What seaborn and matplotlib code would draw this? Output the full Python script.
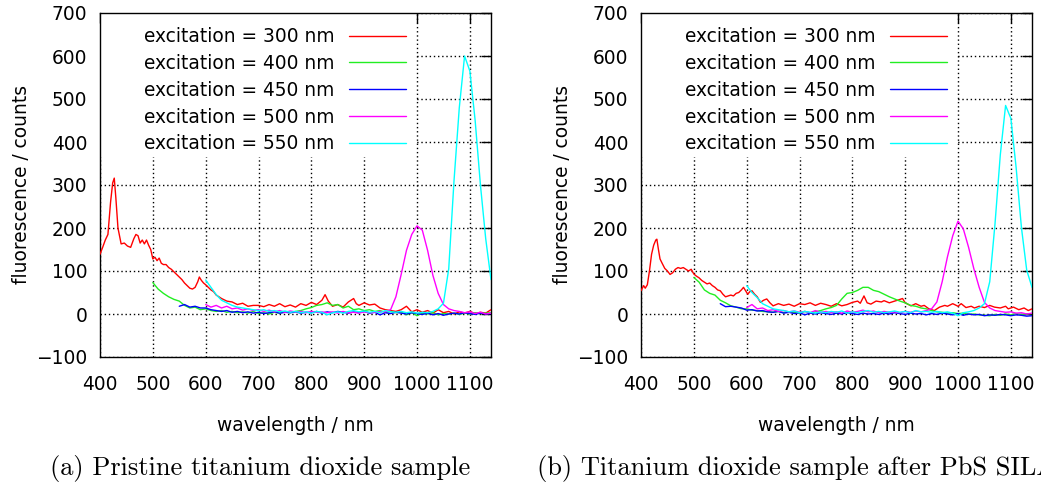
import numpy as np
import pandas as pd
import matplotlib
matplotlib.use("Agg")
import matplotlib.pyplot as plt
from matplotlib.patches import Rectangle
import seaborn as sns

# ---- data (counts vs wavelength in nm) ----
excitations = ["300", "400", "450", "500", "550"]
colors = ["#ff0000", "#22ee22", "#0000ff", "#ff00ff", "#00ffff"]

# panel (a): pristine TiO2
a_wl_300 = [400, 405, 410, 415, 420, 424, 427, 430, 434, 440,
            446, 452, 458, 464, 468, 472, 476, 480, 484, 488,
            492, 496, 500, 504, 508, 512, 516, 520, 525, 530,
            535, 540, 545, 550, 555, 560, 565, 570, 575, 580,
            585, 588, 592, 596, 600, 605, 610, 615, 620, 630,
            640, 650, 660, 670, 680, 690, 700, 710, 720, 730,
            740, 750, 760, 770, 780, 790, 800, 810, 820, 826,
            832, 840, 850, 860, 870, 880, 885, 890, 900, 910,
            920, 930, 940, 950, 960, 970, 980, 990, 1000, 1010,
            1020, 1030, 1040, 1050, 1060, 1070, 1080, 1090, 1100, 1110,
            1120, 1130, 1140]
a_300 = [139, 155, 172, 185, 260, 305, 316, 270, 200, 163,
         165, 158, 155, 175, 185, 182, 165, 172, 163, 172,
         160, 150, 128, 132, 124, 130, 118, 115, 115, 108,
         104, 98, 92, 86, 80, 72, 66, 60, 58, 62,
         75, 86, 78, 72, 68, 62, 56, 52, 44, 36,
         30, 28, 22, 25, 18, 20, 20, 17, 22, 18,
         24, 17, 21, 16, 24, 20, 27, 22, 32, 45,
         30, 18, 22, 16, 28, 36, 24, 20, 26, 21,
         23, 14, 10, 8, 6, 10, 18, 5, 10, 4,
         8, 2, 10, 3, 6, 0, 5, 2, 6, 1,
         4, 2, 10]

a_wl_400 = list(range(500, 1141, 10))
a_400 = [73, 58, 48, 40, 34, 30, 20, 14, 16, 10,
         12, 8, 6, 8, 4, 6, 3, 5, 2, 6,
         1, 3, 0, 4, 2, 5, 3, 6, 8, 12,
         15, 20, 22, 26, 20, 22, 14, 18, 10, 12,
         8, 10, 6, 8, 4, 6, 3, 5, -2, 3,
         -4, 2, 0, 3, -2, 1, 0, 2, -1, 2,
         0, 3, 1, 2, 3]

a_wl_450 = list(range(550, 1141, 10))
a_450 = [18, 22, 16, 18, 14, 14, 10, 8, 6, 8,
         4, 6, 3, 5, 2, 4, 1, 3, 5, 2,
         4, 3, 5, 2, 4, 3, 6, 2, 5, 3,
         6, 4, 2, 5, 3, 6, 2, 4, -2, 3,
         1, 4, 2, 0, 3, 1, -1, 2, -2, 1,
         -3, 0, 2, 0, 3, 1, -1, 2, 0, 1]

a_wl_500 = list(range(600, 1141, 10))
a_500 = [22, 16, 20, 14, 18, 12, 14, 9, 12, 8,
         10, 6, 9, 5, 8, 4, 7, 5, 6, 3,
         6, 4, 5, 3, 5, 2, 6, 3, 4, 2,
         5, 3, 4, 6, 5, 10, 40, 92, 148, 185,
         205, 195, 148, 90, 48, 22, 12, 8, 6, 3,
         5, 1, 4, 0, 2]

a_wl_550 = list(range(600, 1141, 10))
a_550 = [79, 62, 45, 32, 26, 20, 16, 14, 12, 10,
         8, 10, 6, 8, 5, 7, 4, 6, 3, 5,
         2, 6, 4, -2, 3, 5, 2, 6, 8, 5,
         7, 4, 6, 3, 8, 5, 4, 6, 3, 5,
         2, 4, 3, 6, 12, 25, 105, 310, 480, 600,
         565, 450, 300, 175, 80]

# panel (b): after PbS SILAR
b_wl_300 = [400, 405, 408, 412, 416, 420, 424, 428, 430, 433,
            436, 440, 445, 450, 455, 460, 465, 470, 475, 480,
            485, 490, 495, 500, 505, 510, 515, 520, 525, 530,
            535, 540, 545, 550, 555, 560, 565, 570, 575, 580,
            585, 590, 594, 598, 602, 606, 610, 615, 620, 626,
            632, 638, 644, 650, 660, 670, 680, 690, 700, 710,
            720, 730, 740, 750, 760, 770, 780, 790, 800, 810,
            815, 822, 828, 835, 845, 855, 860, 870, 880, 888,
            895, 900, 911, 920, 930, 936, 945, 955, 965, 975,
            980, 990, 1000, 1006, 1015, 1025, 1031, 1040, 1050, 1060,
            1069, 1080, 1090, 1095, 1105, 1115, 1125, 1133, 1140]
b_300 = [54, 66, 60, 68, 100, 139, 160, 172, 174, 150,
         128, 118, 106, 100, 92, 96, 104, 108, 106, 108,
         104, 100, 104, 93, 88, 84, 78, 74, 70, 72,
         66, 62, 56, 54, 46, 40, 42, 44, 42, 48,
         50, 56, 62, 54, 46, 52, 54, 46, 40, 27,
         32, 35, 26, 19, 24, 20, 23, 18, 24, 22,
         26, 20, 25, 22, 18, 24, 19, 22, 27, 30,
         25, 42, 26, 23, 30, 28, 31, 26, 30, 33,
         36, 26, 19, 24, 18, 20, 12, 8, 16, 20,
         18, 24, 18, 24, 15, 18, 14, 18, 15, 20,
         16, 14, 18, 12, 16, 10, 14, 8, 12]

b_wl_400 = list(range(500, 1141, 10))
b_400 = [85, 74, 56, 48, 44, 32, 26, 19, 16, 12,
         12, 9, 8, 6, 5, 4, 6, 3, 5, 4,
         2, 6, 3, 5, 8, 12, 15, 20, 35, 48,
         50, 55, 62, 62, 55, 52, 46, 40, 35, 30,
         26, 20, 18, 14, 12, 8, 5, 4, 2, 3,
         1, 2, -1, 0, -2, -3, -4, -1, -3, 0,
         -2, 1, -1, 0, 1]

b_wl_450 = list(range(550, 1141, 10))
b_450 = [24, 17, 18, 16, 14, 9, 10, 7, 8, 5,
         4, 6, 2, 4, 1, 3, -2, 2, 0, 3,
         1, -1, 2, 0, 3, 1, -1, 2, 0, 1,
         -1, 2, 0, 3, 1, -1, 2, 0, 1, -2,
         1, -1, 2, 0, -2, 1, -3, 0, -2, -1,
         -4, -2, -3, -1, -2, -4, -2, -3, -5, -4]

b_wl_500 = list(range(600, 1141, 10))
b_500 = [15, 22, 12, 14, 8, 10, 6, 8, 5, 7,
         4, 6, 3, 8, 4, 6, 3, 5, 2, 7,
         4, 6, 9, 5, 7, 3, 6, 4, 5, 3,
         6, 4, 7, 5, 8, 12, 28, 75, 133, 182,
         216, 198, 155, 105, 62, 27, 14, 8, 6, 4,
         5, 2, 3, 0, 2]

b_wl_550 = list(range(600, 1141, 10))
b_550 = [66, 50, 38, 24, 18, 12, 10, 8, 5, 7,
         3, 6, 4, 2, 5, 3, 6, 4, 7, 2,
         5, 3, 6, 8, 4, 6, 3, 5, 7, 4,
         6, 3, 8, 5, 6, 4, 6, 3, 5, 2,
         -4, 3, 5, 8, 14, 24, 75, 210, 370, 485,
         455, 340, 201, 102, 62]

panels = {
    "a": [(a_wl_300, a_300), (a_wl_400, a_400), (a_wl_450, a_450),
          (a_wl_500, a_500), (a_wl_550, a_550)],
    "b": [(b_wl_300, b_300), (b_wl_400, b_400), (b_wl_450, b_450),
          (b_wl_500, b_500), (b_wl_550, b_550)],
}
captions = {"a": "(a) Pristine titanium dioxide sample",
            "b": "(b) Titanium dioxide sample after PbS SILAR"}

def to_long(series):
    frames = []
    for exc, (wl, val) in zip(excitations, series):
        frames.append(pd.DataFrame({"wavelength": wl, "counts": val,
                                    "excitation": f"excitation = {exc} nm"}))
    return pd.concat(frames, ignore_index=True)

sns.set_style("white")
plt.rcParams["font.family"] = ["DejaVu Sans"]
plt.rcParams["font.size"] = 13.4
plt.rcParams["text.color"] = "black"
plt.rcParams["axes.labelcolor"] = "black"

fig = plt.figure(figsize=(10.41, 4.88), dpi=100)
W, H = 1041, 488
ax_left = {"a": 100, "b": 641}
palette = dict(zip([f"excitation = {e} nm" for e in excitations], colors))

for key in ["a", "b"]:
    x0 = ax_left[key]
    ax = fig.add_axes([x0 / W, (H - 357) / H, 391 / W, 344 / H])
    df = to_long(panels[key])
    sns.lineplot(data=df, x="wavelength", y="counts", hue="excitation",
                 palette=palette, estimator=None, sort=False, lw=1,
                 ax=ax, zorder=3)
    ax.set_xlim(400, 1140)
    ax.set_ylim(-100, 700)
    ax.set_xticks(range(400, 1101, 100))
    ax.set_yticks(range(-100, 701, 100))
    ax.grid(True, color="black", linestyle=(0, (1, 2)), lw=1)
    ax.set_axisbelow(True)
    for s in ax.spines.values():
        s.set_visible(True)
        s.set_color("black")
        s.set_linewidth(1)
    ax.tick_params(direction="in", length=7, width=1, top=True, right=True,
                   labelsize=13.4, colors="black")
    ax.tick_params(axis="x", pad=13)
    ax.tick_params(axis="y", pad=9)
    ax.set_xlabel("wavelength / nm", fontsize=13.4, labelpad=16)
    ax.set_ylabel("fluorescence / counts", fontsize=13.4, labelpad=4)

    # white key box like gnuplot, hiding grid behind the legend
    ax.add_patch(Rectangle((0, 0.581), 0.808, 0.419, transform=ax.transAxes,
                           facecolor="white", edgecolor="none", zorder=2))
    handles, labels = ax.get_legend_handles_labels()
    leg = ax.legend(handles, labels, loc="upper left",
                    bbox_to_anchor=(0.113, 0.959), frameon=False,
                    markerfirst=False, borderpad=0, borderaxespad=0,
                    handlelength=3.1, handletextpad=0.75, labelspacing=0.42,
                    fontsize=13.4)
    leg.set_zorder(5)

    fig.text((50 if key == "a" else 537) / W, (H - 468) / H, captions[key],
             family="cmr10", fontsize=19, ha="left", va="center")

fig.savefig("out.png", dpi=100)
